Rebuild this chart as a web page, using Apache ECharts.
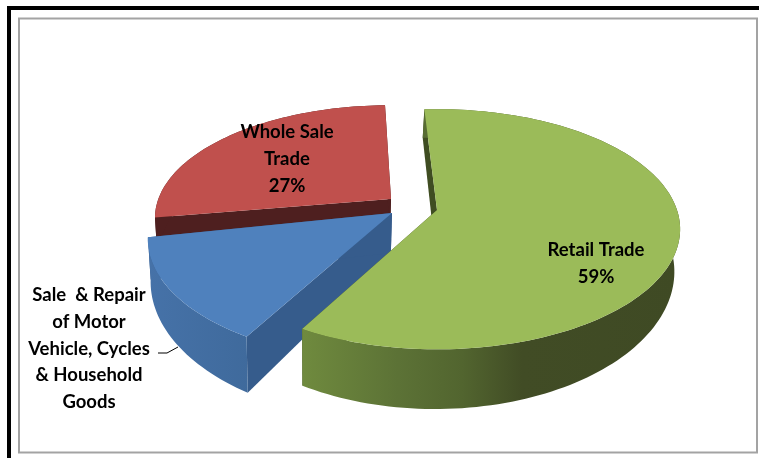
<!DOCTYPE html>
<html><head><meta charset="utf-8">
<style>html,body{margin:0;padding:0;background:#fff}#c{width:759px;height:458px}</style>
<script src="https://cdn.jsdelivr.net/npm/echarts@6/dist/echarts.min.js"></script>
</head><body><div id="c"></div>
<script>
const categories = ['Retail Trade', 'Sale  & Repair\nof Motor\nVehicle, Cycles\n& Household\nGoods', 'Whole Sale\nTrade'];
const shares = [59, 14, 27];
const topColors = ['#9bbb59', '#4f81bd', '#c0504d'];
const faceColors = ['#3f4d22', '#365c8c', '#4e1f1f'];

const START = -2.5, K = 0.16, DEPTH = 40, FONT = 'bold 18.5px Lato, "Open Sans", sans-serif';
const slicesGeom = [
  {cx: 437, cy: 210, ay: 210, rx: 240, ry: 117, rot: -1},
  {cx: 392, cy: 213, ay: 220, rx: 241, ry: 118, rot: 1.5},
  {cx: 391, cy: 199, ay: 200, rx: 233, ry: 110, rot: 0.8}
];
const labelsGeom = [
  {x: 596, y: 250, lh: 27},
  {x: 89, y: 295, lh: 26.8},
  {x: 287, y: 132, lh: 27}
];
const total = shares.reduce((a, b) => a + b, 0);
function span(i) {
  let a = START + slicesGeom[i].rot;
  for (let k = 0; k < i; k++) a += shares[k] / total * 360;
  return [a, a + shares[i] / total * 360];
}
function project(g, deg) {
  const t = deg * Math.PI / 180, u = Math.sin(t), v = -Math.cos(t), s = 1 / (1 - K * v);
  return [g.cx + g.rx * u * s, g.ay + g.ry * v * s, s];
}
function down(p, s) {
  return [p[0] - (p[0] - 320) * 0.016, p[1] + DEPTH * Math.pow(s, 2.3)];
}
function wallFill(i) {
  if (i === 0) return {type: 'linear', x: 304, y: 0, x2: 680, y2: 0, global: true, colorStops: [
    {offset: 0, color: '#6f8a3e'}, {offset: 0.25, color: '#5c7236'}, {offset: 0.42, color: '#52652f'},
    {offset: 0.58, color: '#414c25'}, {offset: 1, color: '#3f4a24'}]};
  if (i === 1) return {type: 'linear', x: 148, y: 0, x2: 250, y2: 0, global: true, colorStops: [
    {offset: 0, color: '#4672a8'}, {offset: 1, color: '#3f6a9c'}]};
  return faceColors[i];
}
function renderItem(params, api) {
  const i = api.value(0), g = slicesGeom[i], [a, b] = span(i);
  const tops = [], bots = [], n = Math.ceil((b - a) / 1.5);
  for (let k = 0; k <= n; k++) {
    const p = project(g, a + (b - a) * k / n);
    tops.push([p[0], p[1]]);
    bots.push(down(p, p[2]));
  }
  const apex = [g.cx, g.cy], apexB = down(apex, 1);
  const children = [];
  const poly = (pts, fill) => children.push({type: 'polygon', shape: {points: pts}, style: {fill}});
  poly([tops[0], apex, apexB, bots[0]], faceColors[i]);
  poly([tops[n], apex, apexB, bots[n]], faceColors[i]);
  poly(tops.concat(bots.slice().reverse()), wallFill(i));
  poly([apex].concat(tops), topColors[i]);
  if (i === 1) children.push({type: 'polyline', shape: {points: [[158, 353], [167, 353], [178, 347]]}, style: {stroke: '#000', lineWidth: 1, fill: 'none'}});
  const lines = i === 1 ? categories[i].split('\n') : categories[i].split('\n').concat(shares[i] + '%');
  const L = labelsGeom[i];
  lines.forEach((t, k) => children.push({type: 'text', z2: 10, style: {
    text: t, x: L.x, y: L.y + k * L.lh, font: FONT, fill: '#000', align: 'center', verticalAlign: 'middle'}}));
  return {type: 'group', children};
}
const chart = echarts.init(document.getElementById('c'), null, {renderer: 'canvas'});
chart.setOption({
  animation: false,
  backgroundColor: '#fff',
  graphic: [
    {type: 'rect', shape: {x: 7, y: 6, width: 752, height: 4}, style: {fill: '#000'}},
    {type: 'rect', shape: {x: 7, y: 6, width: 4, height: 452}, style: {fill: '#000'}},
    {type: 'rect', shape: {x: 19, y: 18.5, width: 738, height: 434}, style: {fill: 'none', stroke: '#a3a3a3', lineWidth: 2}}
  ],
  series: [{
    type: 'custom', coordinateSystem: 'none', renderItem,
    dimensions: ['slice', 'share'],
    data: [2, 1, 0].map(i => [i, shares[i]])
  }]
});
</script></body></html>
